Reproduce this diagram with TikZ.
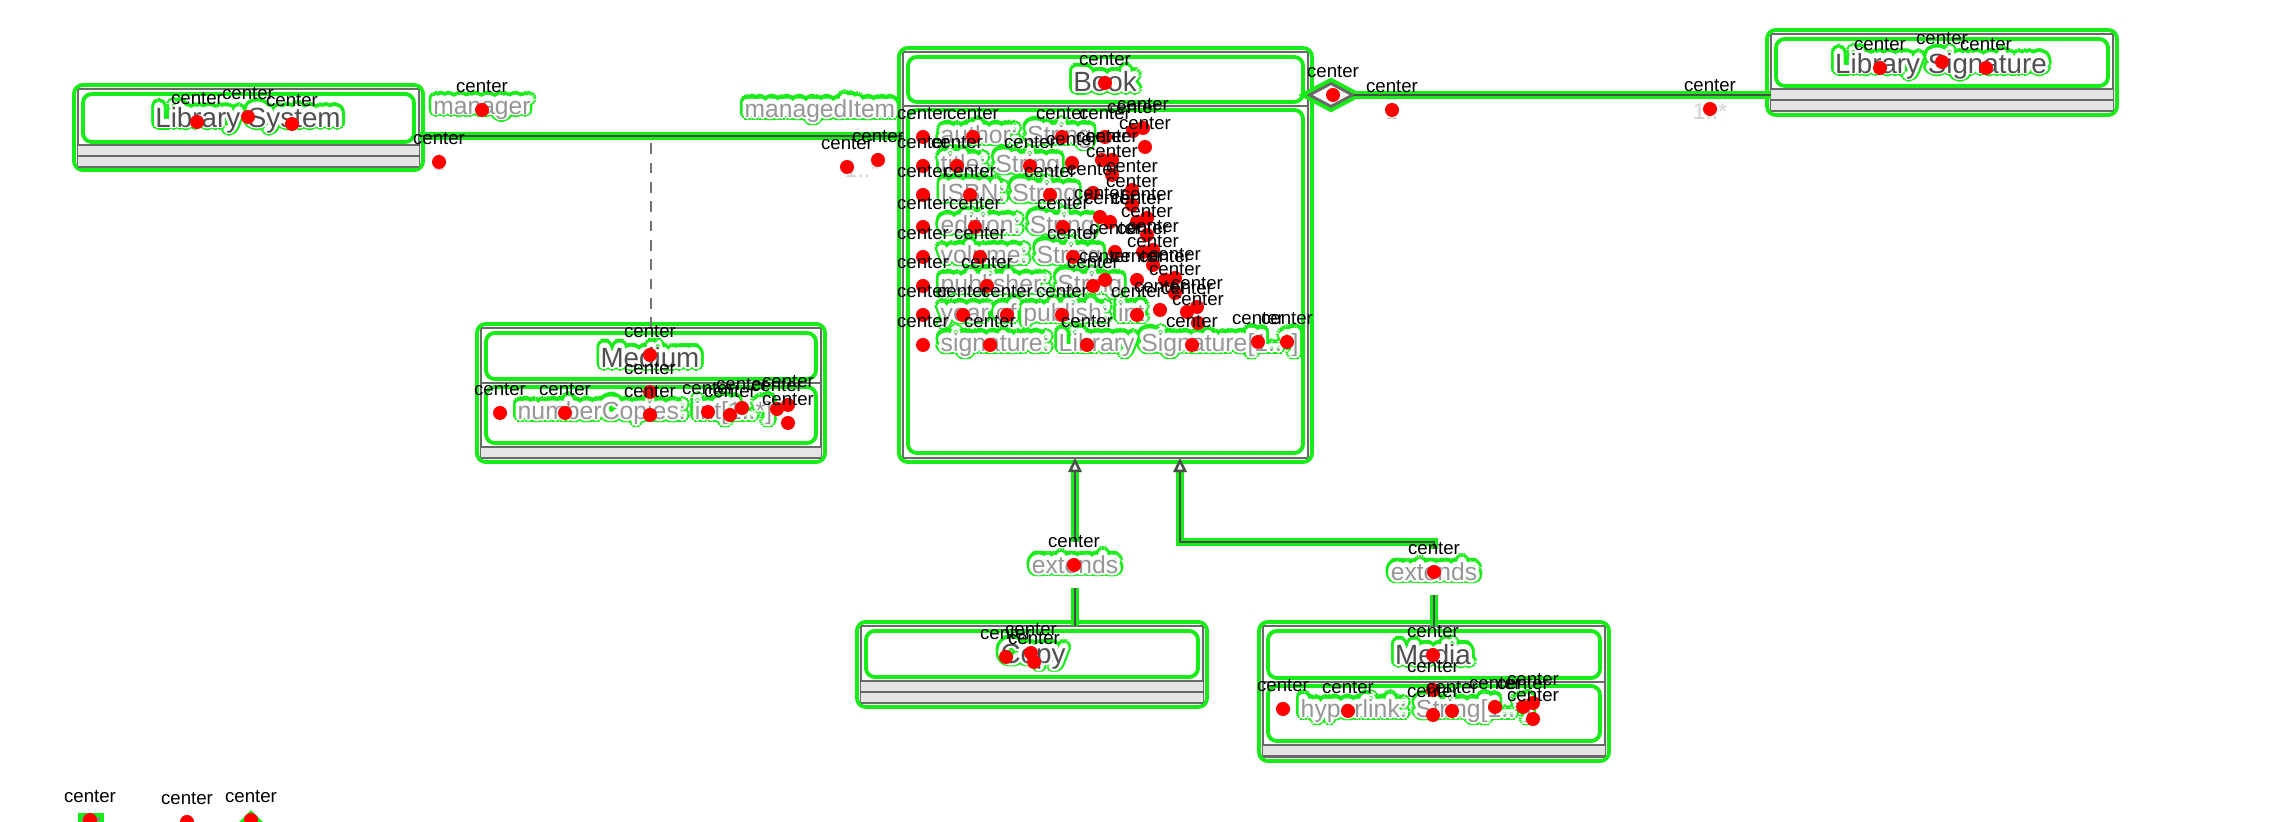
\documentclass[tikz,border=0pt]{standalone}
\usepackage{fontspec}
\setmainfont{Liberation Sans}
\usepackage{contour}
\contournumber{16}
\usetikzlibrary{arrows.meta,shapes.geometric}

\definecolor{hlgreen}{RGB}{24,236,24}
\definecolor{framegrey}{RGB}{105,105,105}
\definecolor{titlegrey}{RGB}{80,80,80}
\definecolor{attrgrey}{RGB}{150,150,150}
\definecolor{dotred}{RGB}{255,0,0}

% anchor probes: a red dot with its anchor name above it
\newcounter{probeno}
\newcommand\probe[1]{\stepcounter{probeno}\node[probe] (probe-\arabic{probeno}) at (#1) {};}
% grey text inside a thin green outline
\newcommand\halotext[4]{%
  \node[#3, text=hlgreen] (#1-ring) at (#2) {\contourlength{1.8pt}\contour{hlgreen}{#4}};
  \node[#3, text=white, fill=none] (#1-gap) at (#2) {\contourlength{1.0pt}\contour{white}{#4}};
  \node[#3, fill=none] (#1) at (#2) {#4};}
% class frame: name, left, top, right, bottom
\newcommand\classframe[5]{%
  \node[frame, minimum width={(#4-#2)*0.01cm}, minimum height={(#5-#3)*0.01cm}] (#1) at (#2,#3) {};
  \draw[ring] (#2-4,#3-4) rectangle (#4+4,#5+4);}
\newcommand\compring[4]{\draw[ring] (#1,#2) rectangle (#3,#4);}
% empty compartment strip: left, right, top
\newcommand\emptystrip[3]{%
  \fill[stripfill] (#1,#3) rectangle (#2,#3+11);
  \draw[divline] (#1,#3) -- (#2,#3) (#1,#3+11) -- (#2,#3+11);}

\begin{document}
\begin{tikzpicture}[x=0.01cm, y=-0.01cm,
  frame/.style={draw=framegrey, line width=0.7pt, fill=white, inner sep=0pt, outer sep=0pt, anchor=north west},
  ring/.style={draw=hlgreen, line width=1.1pt, rounded corners=2.5pt},
  divline/.style={draw=framegrey, line width=0.7pt},
  stripfill/.style={fill=black!10},
  titletext/.style={font=\fontsize{7.9}{9}\selectfont, text=titlegrey, inner sep=0pt},
  attrtext/.style={font=\fontsize{7.05}{8}\selectfont, text=attrgrey, inner sep=0pt, anchor=west},
  edgetext/.style={font=\fontsize{7}{8}\selectfont, text=attrgrey, inner sep=0pt},
  multtext/.style={font=\fontsize{6.5}{8}\selectfont, text=black!18, inner sep=0pt},
  probe/.style={circle, fill=dotred, draw=none, inner sep=0pt, minimum size=0.14cm, label={[probetag]above:center}},
  probetag/.style={font=\fontsize{5.3}{6}\selectfont, text=black, inner sep=2.4pt},
  wire/.style={draw=black!70, line width=0.7pt, preaction={draw=hlgreen, line width=2.4pt}},
  dashlink/.style={draw=black!55, line width=0.8pt, dash pattern=on 3pt off 2.5pt},
  genhead/.style={-{Triangle[open, length=0.14cm, width=0.13cm, fill=white]}},
  aggdiamond/.style={diamond, draw=framegrey, fill=white, line width=0.8pt, minimum width=0.44cm, minimum height=0.24cm, inner sep=0pt, preaction={draw=hlgreen, line width=3pt}},
]
\useasboundingbox (0,0) rectangle (2287,822);
\fill[white] (0,0) rectangle (2287,822);

% ---- classes ----
\classframe{libsys}{78}{89}{419}{166}
\compring{83}{94}{414}{142}
\emptystrip{78}{419}{145}
\emptystrip{78}{419}{156}

\classframe{book}{903}{52}{1308}{458}
\compring{908}{57}{1303}{102}
\draw[divline] (903,106) -- (1308,106);
\compring{908}{110}{1303}{453}

\classframe{libsig}{1771}{34}{2113}{111}
\compring{1776}{39}{2108}{86}
\emptystrip{1771}{2113}{89}
\emptystrip{1771}{2113}{100}

\classframe{medium}{481}{328}{821}{458}
\compring{486}{333}{816}{379}
\draw[divline] (481,383) -- (821,383);
\compring{486}{387}{816}{443}
\emptystrip{481}{821}{447}

\classframe{copy}{861}{626}{1203}{703}
\compring{866}{631}{1198}{677}
\emptystrip{861}{1203}{681}
\emptystrip{861}{1203}{692}

\classframe{media}{1263}{626}{1605}{757}
\compring{1268}{631}{1600}{678}
\draw[divline] (1263,682) -- (1605,682);
\compring{1268}{686}{1600}{741}
\emptystrip{1263}{1605}{745}

% ---- connectors ----
\coordinate (assocy) at (0,136);
\draw[wire] (libsys.east |- assocy) -- (book.west |- assocy);
\draw[dashlink] (medium.north) -- (medium.north |- assocy);

\node[aggdiamond] (agg) at (1331,95) {};
\draw[wire] (agg.east) -- (libsig.west |- agg.east);

\coordinate (copyx) at (1075,0);
\draw[wire, genhead] (copy.north -| copyx) -- (copyx |- book.south);
\coordinate (bend) at (1180,542);
\draw[wire, genhead] (media.north) |- (bend) -- (bend |- book.south);

% ---- class names ----
\halotext{libsystitle}{248,120}{titletext}{Library System}
\halotext{booktitle}{1105,82}{titletext}{Book}
\halotext{libsigtitle}{1941,66}{titletext}{Library Signature}
\halotext{mediumtitle}{650,358}{titletext}{Medium}
\halotext{copytitle}{1033,657}{titletext}{Copy}
\halotext{mediatitle}{1433,655}{titletext}{Media}

% ---- attributes ----
\halotext{attr1}{940,137}{attrtext}{author: String}
\halotext{attr2}{940,166}{attrtext}{title: String}
\halotext{attr3}{940,195}{attrtext}{ISBN: String}
\halotext{attr4}{940,227}{attrtext}{edition: String}
\halotext{attr5}{940,257}{attrtext}{volume: String}
\halotext{attr6}{940,286}{attrtext}{publisher: String}
\halotext{attr7}{940,315}{attrtext}{year of publish: int}
\halotext{attr8}{940,345}{attrtext}{signature: Library Signature[1..*]}
\halotext{attr9}{517,413}{attrtext}{numberCopies: int[1..*]}
\halotext{attr10}{1300,711}{attrtext}{hyperlink: String[1..*]}

% ---- connector labels ----
\halotext{rolemgr}{482,110}{edgetext}{manager}
\halotext{roleitem}{820,111}{edgetext}{managedItem}
\halotext{ext1}{1075,565}{edgetext, fill=white, inner sep=3pt}{extends}
\halotext{ext2}{1434,572}{edgetext, fill=white, inner sep=3pt}{extends}
\node[multtext] (mult1) at (439,163) {1};
\node[multtext] (mult2) at (862,170) {1..*};
\node[multtext] (mult3) at (1392,112) {1};
\node[multtext] (mult4) at (1710,112) {1..*};

% ---- legend glyphs along the lower edge ----
\node[draw=hlgreen, line width=1.2pt, fill=black!45, minimum width=0.22cm, minimum height=0.08cm, inner sep=0pt] (leg1) at (91,819) {};
\draw[hlgreen, line width=1.2pt, fill=black!40] (240,824) -- (251,813) -- (262,824);

% ---- anchor probes ----
\foreach \p in {{197,122},{248,117},{292,124},{482,110},{439,162},{847,167},{878,160},
  {1105,83},{1880,68},{1942,62},{1986,68},{1333,95},{1392,110},{1710,109},
  {1074,565},{1434,572},{90,820},{187,822},{251,820},
  {1006,657},{1031,653},{1034,662},
  {650,355},{650,392},{500,413},{565,413},{650,415},{708,412},{730,415},{742,408},{777,409},{788,405},{788,423},
  {1433,655},{1433,690},{1283,709},{1348,711},{1433,715},{1452,711},{1495,707},{1523,707},{1533,703},{1533,719}}
  {\probe{\p}}
\foreach \p in {{923,137},{973,137},{1062,137},{1105,137},{1133,131},{1143,128},{1145,147},
  {923,166},{957,166},{1030,166},{1072,163},{1102,160},{1112,160},{1112,175},
  {923,195},{970,195},{1050,195},{1093,193},{1132,190},{1132,205},
  {923,227},{975,227},{1063,227},{1100,217},{1110,222},{1137,222},{1147,218},{1147,235},
  {923,257},{980,257},{1073,257},{1115,252},{1143,252},{1153,250},{1153,265},
  {923,286},{987,286},{1093,286},{1105,280},{1137,280},{1165,280},{1175,278},{1175,293},
  {923,315},{963,315},{1007,315},{1062,315},{1137,315},{1160,310},{1187,312},{1197,307},{1198,323},
  {923,345},{990,345},{1087,345},{1192,345},{1258,342},{1287,342}}
  {\probe{\p}}
\end{tikzpicture}
\end{document}
